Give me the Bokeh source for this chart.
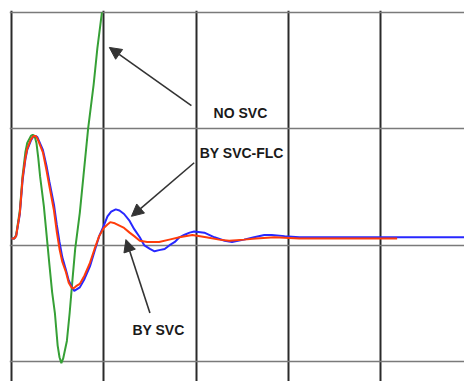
from bokeh.plotting import figure
from bokeh.models import FixedTicker, Range1d, Arrow, NormalHead, Label
from bokeh.embed import file_html
from bokeh.resources import INLINE

# ---- data (time vs. response) ----
t_red = [0, 0.03, 0.05, 0.09, 0.12, 0.15, 0.17, 0.21, 0.24, 0.26, 0.28, 0.34, 0.38, 0.41, 0.46,
         0.49, 0.52, 0.55, 0.59, 0.62, 0.65, 0.67, 0.70, 0.74, 0.79, 0.85, 0.90, 0.95, 1.00, 1.04,
         1.07, 1.12, 1.17, 1.22, 1.28, 1.33, 1.39, 1.47, 1.55, 1.60, 1.71, 1.82, 1.96, 2.11, 2.25,
         2.36, 2.52, 2.65, 2.85, 3.12, 3.45, 3.77, 4.18]
y_red = [0.06, 0.06, 0.08, 0.28, 0.58, 0.75, 0.83, 0.91, 0.94, 0.94, 0.92, 0.80, 0.64, 0.51, 0.30,
         0.12, -0.03, -0.14, -0.23, -0.32, -0.36, -0.37, -0.35, -0.33, -0.26, -0.15, -0.03, 0.08, 0.15, 0.18,
         0.20, 0.19, 0.17, 0.15, 0.11, 0.08, 0.04, 0.03, 0.03, 0.03, 0.05, 0.07, 0.09, 0.07, 0.05,
         0.04, 0.05, 0.06, 0.07, 0.06, 0.06, 0.06, 0.06]

t_blue = [0, 0.03, 0.05, 0.09, 0.12, 0.15, 0.17, 0.21, 0.24, 0.26, 0.28, 0.34, 0.38, 0.41, 0.46,
          0.49, 0.52, 0.55, 0.59, 0.62, 0.65, 0.68, 0.74, 0.79, 0.85, 0.90, 0.95, 1.00, 1.04, 1.08,
          1.13, 1.17, 1.22, 1.28, 1.33, 1.39, 1.44, 1.50, 1.55, 1.60, 1.66, 1.71, 1.77, 1.82, 1.87,
          1.93, 1.98, 2.09, 2.20, 2.31, 2.39, 2.52, 2.63, 2.74, 2.82, 2.96, 3.12, 3.45, 3.99, 4.42, 4.93]
y_blue = [0.06, 0.06, 0.08, 0.27, 0.56, 0.74, 0.82, 0.90, 0.94, 0.94, 0.93, 0.82, 0.68, 0.55, 0.35,
          0.18, 0.03, -0.10, -0.21, -0.30, -0.35, -0.39, -0.36, -0.29, -0.18, -0.05, 0.08, 0.17, 0.25, 0.29,
          0.31, 0.30, 0.27, 0.21, 0.14, 0.07, 0.00, -0.03, -0.05, -0.04, -0.03, 0.00, 0.03, 0.07, 0.09,
          0.11, 0.12, 0.11, 0.07, 0.04, 0.03, 0.05, 0.07, 0.09, 0.09, 0.08, 0.07, 0.07, 0.07, 0.07, 0.07]

t_green = [0, 0.03, 0.05, 0.09, 0.12, 0.15, 0.17, 0.21, 0.23, 0.25, 0.27, 0.29, 0.31, 0.35, 0.38,
           0.41, 0.44, 0.47, 0.50, 0.52, 0.54, 0.56, 0.60, 0.63, 0.66, 0.69, 0.74, 0.78, 0.83, 0.89,
           0.93, 0.98]
y_green = [0.06, 0.06, 0.09, 0.30, 0.60, 0.80, 0.88, 0.94, 0.95, 0.94, 0.88, 0.75, 0.59, 0.34, 0.09,
           -0.16, -0.40, -0.58, -0.86, -0.96, -1.01, -0.97, -0.82, -0.58, -0.30, -0.03, 0.28, 0.60, 1.00, 1.38,
           1.69, 2.00]

x_grid_ticks = [0, 1, 2, 3, 4]
y_grid_ticks = [-1, 0, 1, 2]

labels = ["NO SVC", "BY SVC-FLC", "BY SVC"]

p = figure(width=464, height=381, output_backend="svg", toolbar_location=None,
           x_range=Range1d(-0.022, 4.91), y_range=Range1d(-1.168, 2.017),
           min_border_left=9, min_border_top=10, min_border_right=0, min_border_bottom=0)
p.xaxis.visible = False
p.yaxis.visible = False
p.outline_line_color = None
p.background_fill_color = "white"
p.border_fill_color = "white"

p.xgrid.ticker = FixedTicker(ticks=x_grid_ticks)
p.ygrid.ticker = FixedTicker(ticks=y_grid_ticks)
p.xgrid.grid_line_color = "#2a2a2a"
p.xgrid.grid_line_width = 2
p.ygrid.grid_line_color = "#7a7a7a"
p.ygrid.grid_line_width = 1.6

p.line(t_green, y_green, line_color="#36a036", line_width=2)
p.line(t_blue, y_blue, line_color="#2828ff", line_width=2)
p.line(t_red, y_red, line_color="#ff3c0a", line_width=2)

arrow_color = "#333333"
for (xs, ys, xe, ye) in [(1.95, 1.20, 1.06, 1.70), (1.98, 0.71, 1.30, 0.25), (1.50, -0.58, 1.24, 0.05)]:
    p.add_layout(Arrow(x_start=xs, y_start=ys, x_end=xe, y_end=ye,
                       line_color=arrow_color, line_width=1.6,
                       end=NormalHead(size=12, fill_color=arrow_color, line_color=arrow_color)))

for txt, lx, ly in zip(labels, [2.19, 2.04, 1.31], [1.14, 0.79, -0.73]):
    p.add_layout(Label(x=lx, y=ly, text=txt, text_font="Liberation Sans", text_font_style="bold",
                       text_font_size="14px", text_color="#1a1a1a", text_baseline="middle"))

open("out.html", "w").write(file_html(p, INLINE))
